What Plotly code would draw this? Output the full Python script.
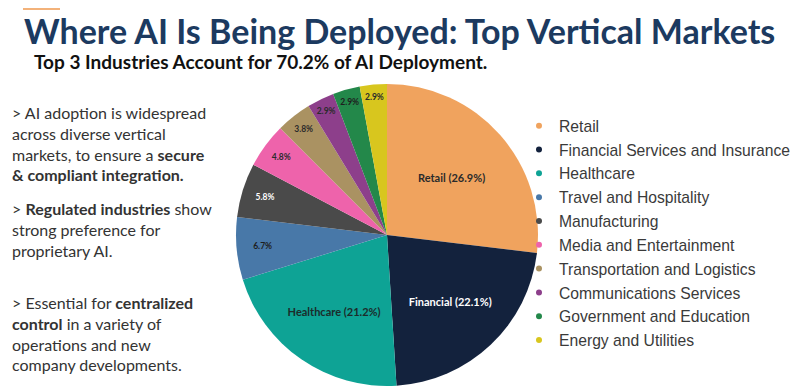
import plotly.graph_objects as go

categories = ["Retail", "Financial Services and Insurance", "Healthcare", "Travel and Hospitality",
              "Manufacturing", "Media and Entertainment", "Transportation and Logistics",
              "Communications Services", "Government and Education", "Energy and Utilities"]
short_names = ["Retail", "Financial", "Healthcare", "", "", "", "", "", "", ""]
values = [26.9, 22.1, 21.2, 6.7, 5.8, 4.8, 3.8, 2.9, 2.9, 2.9]
colors = ["#F0A35E", "#13223D", "#0EA395", "#4878A8", "#4A4A4A", "#EE63AB",
          "#AA9262", "#8D3F8B", "#23884A", "#D8C61E"]
text_colors = ["#2b2b2b", "#ffffff", "#1c2b2b", "#1e1e1e", "#ffffff", "#2b2b2b",
               "#2b2b2b", "#2b2b2b", "#1e1e1e", "#2b2b2b"]

labels_text = [f"{n} ({v:.1f}%)" if n else f"{v:.1f}%" for n, v in zip(short_names, values)]

# page body has an 8px margin; figure sized to fill the rest of the window
OX, OY, W, H = 8, 8, 792, 382


def px(sx):
    return (sx - OX) / W


def py(sy):
    return 1 - (sy - OY) / H


fig = go.Figure()
fig.add_trace(go.Pie(
    labels=categories, values=values, sort=False, direction="clockwise", rotation=0,
    marker=dict(colors=colors, line=dict(width=0)),
    text=labels_text, textinfo="text", textposition="inside",
    insidetextorientation="horizontal",
    textfont=dict(family="Lato, Arial", size=[11, 11, 11, 8.5, 8.5, 8.5, 8.5, 8.5, 8.5, 8.5],
                  color=text_colors, weight="bold"),
    domain=dict(x=[px(387 - 151), px(387 + 151)], y=[py(386), py(84)]),
    showlegend=False, hoverinfo="label+percent",
))

for i, (c, col) in enumerate(zip(categories, colors)):
    fig.add_trace(go.Scatter(x=[None], y=[None], mode="markers", name=c, legendgroup=str(i),
                             marker=dict(color=col, size=6, symbol="circle")))

fig.update_layout(
    width=W, height=H, margin=dict(l=0, r=0, t=0, b=0),
    paper_bgcolor="white", plot_bgcolor="white",
    xaxis=dict(visible=False), yaxis=dict(visible=False),
    showlegend=True,
    legend=dict(x=px(519), y=py(109), xanchor="left", yanchor="top",
                font=dict(family="Liberation Sans, Arial", size=15.7, color="#3a3a3a"),
                traceorder="grouped", tracegroupgap=0.4, itemwidth=30,
                bgcolor="rgba(0,0,0,0)"),
)

fig.add_shape(type="rect", xref="paper", yref="paper", x0=px(23), x1=px(60),
              y0=py(10), y1=py(8), fillcolor="#F3B27A", line=dict(width=0))

fig.add_annotation(text="<b>Where AI Is Being Deployed: Top Vertical Markets</b>",
                   xref="paper", yref="paper", x=px(22), y=py(30),
                   xanchor="left", yanchor="middle", showarrow=False,
                   font=dict(family="Lato, Arial", size=34, color="#1C3A60"))
fig.add_annotation(text="<b>Top 3 Industries Account for 70.2% of AI Deployment.</b>",
                   xref="paper", yref="paper", x=px(32), y=py(61.5),
                   xanchor="left", yanchor="middle", showarrow=False,
                   font=dict(family="Lato, Arial", size=19, color="#111111"))

paras = [
    ("> AI adoption is widespread<br>across diverse vertical<br>markets, to ensure a <b>secure</b><br><b>&amp; compliant integration.</b>", 113),
    ("> <b>Regulated industries</b> show<br>strong preference for<br>proprietary AI.", 209),
    ("> Essential for <b>centralized</b><br><b>control</b> in a variety of<br>operations and new<br>company developments.", 303),
]
for txt, ytop in paras:
    fig.add_annotation(text=txt, xref="paper", yref="paper", x=px(10), y=py(ytop - 12),
                       xanchor="left", yanchor="top", align="left", showarrow=False,
                       font=dict(family="Lato, Arial", size=16, color="#333333"))

fig.write_html("out.html")
